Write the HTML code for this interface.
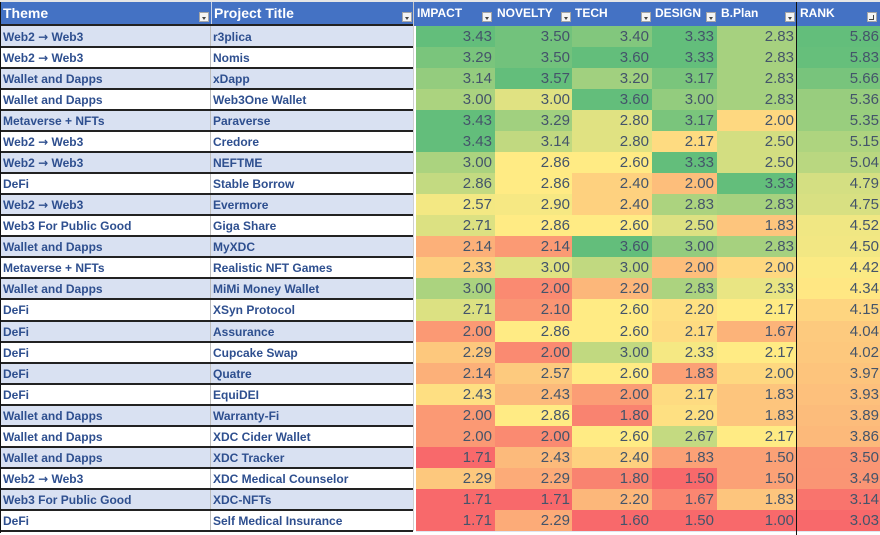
<!DOCTYPE html>
<html><head><meta charset="utf-8">
<style>
*{margin:0;padding:0;box-sizing:border-box}
html,body{width:880px;height:535px;overflow:hidden;background:#fff;font-family:"Liberation Sans",Arial,sans-serif}
#top{position:absolute;left:0;top:0;width:880px;height:2px;background:#e6e6e6}
.hd{position:absolute;top:2px;height:24px;background:#4472C4;color:#fff;font-weight:bold;line-height:23px;white-space:nowrap;overflow:hidden}
.hd.big{font-size:14px;height:22px;line-height:22px}
.hd.cap{font-size:12px}
.btn{position:absolute;width:10px;height:10px;top:12px;background:#f4f4f4;border:1px solid #a6a6a6}
.btn:after{content:"";position:absolute;left:2px;top:4px;border-left:2.5px solid transparent;border-right:2.5px solid transparent;border-top:3px solid #444}
.btn.s:after{left:5px;top:2px;width:1px;height:5px;border:0;background:#444}
.btn.s:before{content:"";position:absolute;left:1px;top:6px;width:4px;height:1px;background:#444}
.r{position:absolute;left:0;width:880px;height:21px}
.c{position:absolute;top:0;height:100%;white-space:nowrap;overflow:hidden}
.t{left:0;width:211px;border-left:1px solid #111;border-right:1px solid #bdbdbd;padding-left:2px;font-weight:bold;font-size:12px;color:#2E4F8F;line-height:22px}
.p{left:211px;width:202px;padding-left:2px;font-weight:bold;font-size:12px;color:#2E4F8F;line-height:22px}
.a{font-family:"DejaVu Sans",sans-serif;font-weight:bold;font-size:12px}
.o .t,.o .p{background:#D9E1F2}
.g{left:413px;width:3px;background:#fff;border-left:1px solid #cfcfcf}
.n{text-align:right;font-size:15px;color:#44546A;line-height:22px;padding-right:3px}
.n0{left:416px;width:79px}
.n1{left:495px;width:77px;padding-right:2px}
.n2{left:572px;width:80px}
.n3{left:652px;width:65px}
.n4{left:717px;width:79px;padding-right:2px}
.n5{left:797px;width:83px;padding-right:1px}
.ln{position:absolute;left:0;width:413px;height:2px;background:#222}
#vb{position:absolute;left:796px;top:2px;width:1px;height:533px;background:#111}
#lb{position:absolute;left:0;top:2px;width:1px;height:531px;background:#111}
</style></head><body>
<div id="top"></div>
<div class="hd big" style="left:0;width:211px;padding-left:3px">Theme</div>
<div class="btn" style="left:199px"></div>
<div class="hd big" style="left:211px;width:202px;padding-left:2px;border-left:1px solid #c9d3e8">Project Title</div>
<div class="btn" style="left:402px"></div>
<div style="position:absolute;left:413px;top:2px;width:3px;height:24px;background:#4472C4;border-left:1px solid #c9c9c9"></div>
<div class="hd cap" style="left:416px;width:79px;padding-left:1px">IMPACT</div>
<div class="btn" style="left:482px"></div>
<div class="hd cap" style="left:495px;width:77px;padding-left:2px">NOVELTY</div>
<div class="btn" style="left:561px"></div>
<div class="hd cap" style="left:572px;width:80px;padding-left:3px">TECH</div>
<div class="btn" style="left:641px"></div>
<div class="hd cap" style="left:652px;width:65px;padding-left:3px">DESIGN</div>
<div class="btn" style="left:706px"></div>
<div class="hd cap" style="left:717px;width:79px;padding-left:4px">B.Plan</div>
<div class="btn" style="left:785px"></div>
<div class="hd cap" style="left:797px;width:83px;padding-left:3px">RANK</div>
<div class="btn s" style="left:867px"></div>
<div class="ln" style="top:24px"></div>

<div id="rows">
<div class="r o" style="top:26px"><div class="c t">Web2 <span class="a">→</span> Web3</div><div class="c p">r3plica</div><div class="c g"></div><div class="c n n0">3.43</div><div class="c n n1">3.50</div><div class="c n n2">3.40</div><div class="c n n3">3.33</div><div class="c n n4">2.83</div><div class="c n n5">5.86</div></div>
<div class="r" style="top:47px"><div class="c t">Web2 <span class="a">→</span> Web3</div><div class="c p">Nomis</div><div class="c g"></div><div class="c n n0">3.29</div><div class="c n n1">3.50</div><div class="c n n2">3.60</div><div class="c n n3">3.33</div><div class="c n n4">2.83</div><div class="c n n5">5.83</div></div>
<div class="r o" style="top:68px"><div class="c t">Wallet and Dapps</div><div class="c p">xDapp</div><div class="c g"></div><div class="c n n0">3.14</div><div class="c n n1">3.57</div><div class="c n n2">3.20</div><div class="c n n3">3.17</div><div class="c n n4">2.83</div><div class="c n n5">5.66</div></div>
<div class="r" style="top:89px"><div class="c t">Wallet and Dapps</div><div class="c p">Web3One Wallet</div><div class="c g"></div><div class="c n n0">3.00</div><div class="c n n1">3.00</div><div class="c n n2">3.60</div><div class="c n n3">3.00</div><div class="c n n4">2.83</div><div class="c n n5">5.36</div></div>
<div class="r o" style="top:110px"><div class="c t">Metaverse + NFTs</div><div class="c p">Paraverse</div><div class="c g"></div><div class="c n n0">3.43</div><div class="c n n1">3.29</div><div class="c n n2">2.80</div><div class="c n n3">3.17</div><div class="c n n4">2.00</div><div class="c n n5">5.35</div></div>
<div class="r" style="top:131px"><div class="c t">Web2 <span class="a">→</span> Web3</div><div class="c p">Credore</div><div class="c g"></div><div class="c n n0">3.43</div><div class="c n n1">3.14</div><div class="c n n2">2.80</div><div class="c n n3">2.17</div><div class="c n n4">2.50</div><div class="c n n5">5.15</div></div>
<div class="r o" style="top:152px"><div class="c t">Web2 <span class="a">→</span> Web3</div><div class="c p">NEFTME</div><div class="c g"></div><div class="c n n0">3.00</div><div class="c n n1">2.86</div><div class="c n n2">2.60</div><div class="c n n3">3.33</div><div class="c n n4">2.50</div><div class="c n n5">5.04</div></div>
<div class="r" style="top:173px"><div class="c t">DeFi</div><div class="c p">Stable Borrow</div><div class="c g"></div><div class="c n n0">2.86</div><div class="c n n1">2.86</div><div class="c n n2">2.40</div><div class="c n n3">2.00</div><div class="c n n4">3.33</div><div class="c n n5">4.79</div></div>
<div class="r o" style="top:194px"><div class="c t">Web2 <span class="a">→</span> Web3</div><div class="c p">Evermore</div><div class="c g"></div><div class="c n n0">2.57</div><div class="c n n1">2.90</div><div class="c n n2">2.40</div><div class="c n n3">2.83</div><div class="c n n4">2.83</div><div class="c n n5">4.75</div></div>
<div class="r" style="top:215px"><div class="c t">Web3 For Public Good</div><div class="c p">Giga Share</div><div class="c g"></div><div class="c n n0">2.71</div><div class="c n n1">2.86</div><div class="c n n2">2.60</div><div class="c n n3">2.50</div><div class="c n n4">1.83</div><div class="c n n5">4.52</div></div>
<div class="r o" style="top:236px"><div class="c t">Wallet and Dapps</div><div class="c p">MyXDC</div><div class="c g"></div><div class="c n n0">2.14</div><div class="c n n1">2.14</div><div class="c n n2">3.60</div><div class="c n n3">3.00</div><div class="c n n4">2.83</div><div class="c n n5">4.50</div></div>
<div class="r" style="top:257px"><div class="c t">Metaverse + NFTs</div><div class="c p">Realistic NFT Games</div><div class="c g"></div><div class="c n n0">2.33</div><div class="c n n1">3.00</div><div class="c n n2">3.00</div><div class="c n n3">2.00</div><div class="c n n4">2.00</div><div class="c n n5">4.42</div></div>
<div class="r o" style="top:278px"><div class="c t">Wallet and Dapps</div><div class="c p">MiMi Money Wallet</div><div class="c g"></div><div class="c n n0">3.00</div><div class="c n n1">2.00</div><div class="c n n2">2.20</div><div class="c n n3">2.83</div><div class="c n n4">2.33</div><div class="c n n5">4.34</div></div>
<div class="r" style="top:299px;height:22px"><div class="c t">DeFi</div><div class="c p">XSyn Protocol</div><div class="c g"></div><div class="c n n0">2.71</div><div class="c n n1">2.10</div><div class="c n n2">2.60</div><div class="c n n3">2.20</div><div class="c n n4">2.17</div><div class="c n n5">4.15</div></div>
<div class="r o" style="top:321px"><div class="c t">DeFi</div><div class="c p">Assurance</div><div class="c g"></div><div class="c n n0">2.00</div><div class="c n n1">2.86</div><div class="c n n2">2.60</div><div class="c n n3">2.17</div><div class="c n n4">1.67</div><div class="c n n5">4.04</div></div>
<div class="r" style="top:342px"><div class="c t">DeFi</div><div class="c p">Cupcake Swap</div><div class="c g"></div><div class="c n n0">2.29</div><div class="c n n1">2.00</div><div class="c n n2">3.00</div><div class="c n n3">2.33</div><div class="c n n4">2.17</div><div class="c n n5">4.02</div></div>
<div class="r o" style="top:363px"><div class="c t">DeFi</div><div class="c p">Quatre</div><div class="c g"></div><div class="c n n0">2.14</div><div class="c n n1">2.57</div><div class="c n n2">2.60</div><div class="c n n3">1.83</div><div class="c n n4">2.00</div><div class="c n n5">3.97</div></div>
<div class="r" style="top:384px"><div class="c t">DeFi</div><div class="c p">EquiDEI</div><div class="c g"></div><div class="c n n0">2.43</div><div class="c n n1">2.43</div><div class="c n n2">2.00</div><div class="c n n3">2.17</div><div class="c n n4">1.83</div><div class="c n n5">3.93</div></div>
<div class="r o" style="top:405px"><div class="c t">Wallet and Dapps</div><div class="c p">Warranty-Fi</div><div class="c g"></div><div class="c n n0">2.00</div><div class="c n n1">2.86</div><div class="c n n2">1.80</div><div class="c n n3">2.20</div><div class="c n n4">1.83</div><div class="c n n5">3.89</div></div>
<div class="r" style="top:426px"><div class="c t">Wallet and Dapps</div><div class="c p">XDC Cider Wallet</div><div class="c g"></div><div class="c n n0">2.00</div><div class="c n n1">2.00</div><div class="c n n2">2.60</div><div class="c n n3">2.67</div><div class="c n n4">2.17</div><div class="c n n5">3.86</div></div>
<div class="r o" style="top:447px"><div class="c t">Wallet and Dapps</div><div class="c p">XDC Tracker</div><div class="c g"></div><div class="c n n0">1.71</div><div class="c n n1">2.43</div><div class="c n n2">2.40</div><div class="c n n3">1.83</div><div class="c n n4">1.50</div><div class="c n n5">3.50</div></div>
<div class="r" style="top:468px"><div class="c t">Web2 <span class="a">→</span> Web3</div><div class="c p">XDC Medical Counselor</div><div class="c g"></div><div class="c n n0">2.29</div><div class="c n n1">2.29</div><div class="c n n2">1.80</div><div class="c n n3">1.50</div><div class="c n n4">1.50</div><div class="c n n5">3.49</div></div>
<div class="r o" style="top:489px"><div class="c t">Web3 For Public Good</div><div class="c p">XDC-NFTs</div><div class="c g"></div><div class="c n n0">1.71</div><div class="c n n1">1.71</div><div class="c n n2">2.20</div><div class="c n n3">1.67</div><div class="c n n4">1.83</div><div class="c n n5">3.14</div></div>
<div class="r" style="top:510px"><div class="c t">DeFi</div><div class="c p">Self Medical Insurance</div><div class="c g"></div><div class="c n n0">1.71</div><div class="c n n1">2.29</div><div class="c n n2">1.60</div><div class="c n n3">1.50</div><div class="c n n4">1.00</div><div class="c n n5">3.03</div></div>
</div>

<div class="ln" style="top:46px"></div>
<div class="ln" style="top:67px"></div>
<div class="ln" style="top:88px"></div>
<div class="ln" style="top:109px"></div>
<div class="ln" style="top:130px"></div>
<div class="ln" style="top:151px"></div>
<div class="ln" style="top:172px"></div>
<div class="ln" style="top:193px"></div>
<div class="ln" style="top:214px"></div>
<div class="ln" style="top:235px"></div>
<div class="ln" style="top:256px"></div>
<div class="ln" style="top:277px"></div>
<div class="ln" style="top:298px"></div>
<div class="ln" style="top:320px"></div>
<div class="ln" style="top:341px"></div>
<div class="ln" style="top:362px"></div>
<div class="ln" style="top:383px"></div>
<div class="ln" style="top:404px"></div>
<div class="ln" style="top:425px"></div>
<div class="ln" style="top:446px"></div>
<div class="ln" style="top:467px"></div>
<div class="ln" style="top:488px"></div>
<div class="ln" style="top:509px"></div>
<div class="ln" style="top:530px"></div>
<div style="position:absolute;left:416px;top:531px;width:464px;height:1px;background:#dfe5f0"></div>
<div id="lb"></div>
<div id="vb"></div>

<script>
(function(){
  var R=[248,105,107],Y=[255,235,132],G=[99,190,123];
  function mix(a,b,t){return 'rgb('+[0,1,2].map(function(i){return Math.round(a[i]+(b[i]-a[i])*t)}).join(',')+')';}
  for(var j=0;j<6;j++){
    var cells=document.querySelectorAll('.n'+j);
    var vals=[];for(var k=0;k<cells.length;k++)vals.push(parseFloat(cells[k].textContent));
    var s=vals.slice().sort(function(a,b){return a-b});
    var n=s.length,mn=s[0],mx=s[n-1];
    var pos=(n-1)*0.5,lo=Math.floor(pos),md=s[lo]+(s[Math.min(lo+1,n-1)]-s[lo])*(pos-lo);
    for(var k=0;k<cells.length;k++){
      var v=vals[k],c;
      if(v<=md){c=mix(R,Y,md>mn?(v-mn)/(md-mn):1);}
      else{c=mix(Y,G,mx>md?(v-md)/(mx-md):1);}
      cells[k].style.background=c;
    }
  }
})();
</script>
</body></html>
